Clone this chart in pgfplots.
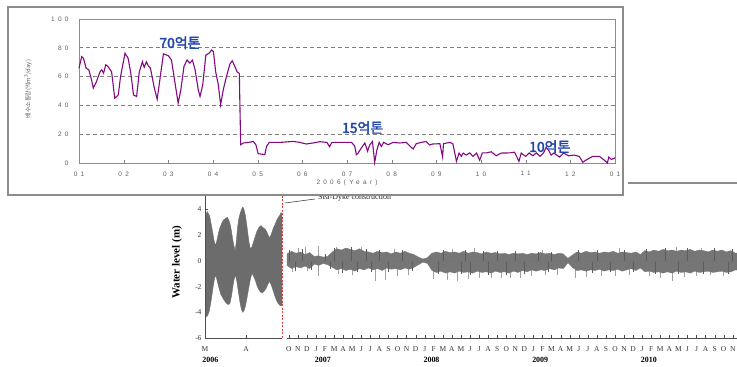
\documentclass[border=0pt]{standalone}
\usepackage{pgfplots}
\pgfplotsset{compat=1.18}
\usepackage{fontspec}
\setmainfont{Liberation Serif}
\newfontfamily\krfont{Noto Sans CJK KR}
\newfontfamily\krbold[FakeBold=2.5]{Noto Sans CJK KR}
\newfontfamily\spfont[LetterSpace=50]{Liberation Sans}
\definecolor{purp}{RGB}{130,10,130}
\definecolor{annblue}{RGB}{35,70,170}
\definecolor{tgray}{RGB}{95,95,95}
\definecolor{wgray}{RGB}{108,108,108}
\definecolor{bgray}{RGB}{118,118,118}
\definecolor{sgray}{RGB}{160,160,160}
\definecolor{rline}{RGB}{225,60,60}
\begin{document}
\begin{tikzpicture}
\path[use as bounding box] (0bp,0bp) rectangle (737bp,367bp);

% ---------------- bottom chart, left segment (Mar-Apr 2006) ----------------
\begin{axis}[at={(205bp,29bp)}, anchor=south west, scale only axis,
  width=77bp, height=142.6bp, xmin=0, xmax=58, ymin=-6, ymax=5.1,
  axis x line*=bottom, axis y line*=left,
  axis line style={black!70, line width=0.8bp, -},
  xtick={0,31}, xticklabels={M,A},
  ytick={-6,-4,-2,0,2,4}, yticklabels={-6,-4,-2,0,2,4},
  tick align=inside, major tick length=2.5bp, tick style={black!70},
  ticklabel style={font=\fontsize{7.5}{8}\selectfont, text=black!80},
  xticklabel style={yshift=-5bp},
  every axis y label/.style={at={(axis description cs:-0.364,0.53)}, rotate=90, anchor=center},
  ylabel={\fontsize{11}{12}\selectfont\bfseries Water level (m)},
  clip=false]
\addplot[fill=wgray, draw=wgray, line width=0.4bp] coordinates {
(0.8,3.6) (1.6,3.85) (2.4,3.7) (3.5,3.5) (4.6,2.9) (5.8,2.2) (6.8,1.6) (7.8,1.2) (8.8,1.5) (9.8,2.0) (11.0,2.5) (12.5,2.9) (14.0,3.2) (15.5,3.3) (16.9,3.4) (18.2,3.1) (19.3,2.7) (20.4,2.0) (21.5,1.3) (22.7,0.8) (23.6,1.5) (24.5,2.6) (25.5,3.3) (26.5,3.7) (27.5,4.0) (28.5,4.2) (29.4,4.0) (30.3,3.6) (31.2,3.0) (32.2,2.2) (33.2,1.4) (34.3,0.9) (35.4,1.1) (36.6,1.5) (37.8,1.9) (39.1,2.3) (40.6,2.6) (42.2,2.75) (43.6,2.6) (45.0,2.5) (46.4,2.3) (47.6,2.0) (48.8,1.8) (50.0,2.1) (51.3,2.5) (52.6,2.8) (53.8,3.1) (55.0,3.35) (56.3,3.55) (57.3,3.75) (58,3.7)
(58,-3.4) (57.2,-3.5) (56.3,-3.45) (55.0,-3.3) (53.8,-3.05) (52.5,-2.7) (51.3,-2.3) (50.0,-1.9) (48.7,-1.6) (47.4,-1.8) (46.2,-2.1) (44.6,-2.35) (43.0,-2.5) (41.6,-2.4) (40.4,-2.2) (39.1,-1.9) (37.9,-1.5) (36.6,-1.2) (35.4,-0.95) (34.2,-1.4) (32.8,-2.2) (31.6,-2.9) (30.5,-3.5) (29.5,-3.85) (28.5,-4.0) (27.5,-3.8) (26.5,-3.3) (25.3,-2.5) (24.0,-1.6) (23.0,-1.1) (22.0,-1.4) (21.0,-2.0) (20.0,-2.7) (18.8,-3.3) (17.5,-3.4) (16.2,-3.3) (15.0,-3.15) (13.5,-2.9) (11.9,-2.6) (10.5,-2.1) (9.3,-1.6) (8.3,-1.15) (7.3,-1.3) (6.3,-1.9) (5.3,-2.6) (4.3,-3.3) (3.2,-3.9) (2.2,-4.2) (1.2,-4.35) (0.8,-4.2)
} -- cycle;
\addplot[rline, line width=0.8bp, dash pattern=on 2bp off 1.5bp] coordinates {(58,-6) (58,5.1)};
\node[font=\fontsize{8}{9}\selectfont\bfseries, anchor=north] at (axis cs:4,-6) [yshift=-16bp] {2006};
\end{axis}

% ---------------- bottom chart, right segment (Oct 2006 - 2010) ----------------
\begin{axis}[at={(287bp,29bp)}, anchor=south west, scale only axis,
  width=454.8bp, height=142.6bp, xmin=-3.2, xmax=47, ymin=-6, ymax=5.1,
  axis x line*=bottom, axis y line=none,
  axis line style={black!70, line width=0.8bp, -},
  xtick={-3,...,46},
  xticklabels={O,N,D,J,F,M,A,M,J,J,A,S,O,N,D,J,F,M,A,M,J,J,A,S,O,N,D,J,F,M,A,M,J,J,A,S,O,N,D,J,F,M,A,M,J,J,A,S,O,N},
  tick align=inside, major tick length=2.5bp, tick style={black!70},
  ticklabel style={font=\fontsize{7.5}{8}\selectfont, text=black!80},
  xticklabel style={yshift=-5bp},
  clip=false]
\addplot[ycomb, sgray, line width=0.7bp] coordinates {
(-2.6,-0.9) (-1.0,-0.8) (0.3,-1.2) (2.5,-1.0) (4.0,-1.1) (6.6,-1.55) (7.7,-1.5) (9.0,-1.2) (10.2,-1.1) (13.0,-1.4) (14.5,-1.5) (15.6,-1.6) (16.8,-1.4) (18.0,-1.3) (19.3,-1.3) (20.5,-1.3) (21.5,-1.3) (22.6,-1.35) (23.8,-1.2) (25.3,-1.1) (26.6,-1.1) (28.6,-1.3) (29.8,-1.25) (31.5,-1.15) (33.0,-1.2) (34.6,-1.1) (36.8,-1.2) (38.0,-1.3) (39.3,-1.6) (40.7,-1.25) (42.0,-1.2) (43.5,-1.1) (45.0,-1.2)
(-2.0,1.0) (-1.2,1.05) (0.3,1.15) (2.2,1.1) (3.5,1.0) (5.0,1.05) (8.6,0.95) (15.0,0.95) (17.5,1.0) (25.0,0.85) (33.5,1.0) (39.8,1.1) (42.5,1.0)
};
\addplot[fill=bgray, draw=bgray, line width=0.3bp] coordinates {
(-3.2,0.55) (-2.7,0.75) (-2.2,0.6) (-1.7,0.7) (-1.2,0.5) (-0.7,0.65) (-0.2,0.35) (0.3,0.4) (0.8,0.3) (1.3,0.35) (1.8,0.7) (2.3,0.95) (2.8,0.85) (3.3,1.0) (3.8,0.9) (4.3,0.8) (4.8,0.95) (5.3,0.75) (5.8,0.7) (6.3,0.6) (6.8,0.75) (7.3,0.65) (7.8,0.7) (8.3,0.55) (8.8,0.7) (9.3,0.6) (9.8,0.75) (10.3,0.6) (10.8,0.5) (11.3,0.3) (11.8,0.15) (12.3,0.25) (12.8,0.6) (13.3,0.7) (13.8,0.6) (14.3,0.75) (14.8,0.65) (15.3,0.7) (15.8,0.6) (16.3,0.75) (16.8,0.6) (17.3,0.7) (17.8,0.65) (18.3,0.55) (18.8,0.7) (19.3,0.6) (19.8,0.65) (20.3,0.55) (20.8,0.6) (21.3,0.5) (21.8,0.6) (22.3,0.55) (22.8,0.6) (23.3,0.5) (23.8,0.6) (24.3,0.55) (24.8,0.65) (25.3,0.55) (25.8,0.6) (26.3,0.5) (26.8,0.6) (27.3,0.55) (27.8,0.2) (28.3,0.45) (28.8,0.7) (29.3,0.6) (29.8,0.75) (30.3,0.65) (30.8,0.7) (31.3,0.6) (31.8,0.7) (32.3,0.65) (32.8,0.75) (33.3,0.6) (33.8,0.7) (34.3,0.65) (34.8,0.6) (35.3,0.7) (35.8,0.5) (36.3,0.8) (36.8,0.7) (37.3,0.85) (37.8,0.75) (38.3,0.9) (38.8,0.8) (39.3,0.85) (39.8,0.75) (40.3,0.85) (40.8,0.8) (41.3,0.9) (41.8,0.75) (42.3,0.85) (42.8,0.8) (43.3,0.7) (43.8,0.85) (44.3,0.75) (44.8,0.85) (45.3,0.7) (45.8,0.8) (46.3,0.6) (46.8,0.65) (47,0.6)
(47,-0.7) (46.8,-0.75) (46.3,-0.7) (45.8,-0.85) (45.3,-0.9) (44.8,-0.8) (44.3,-0.85) (43.8,-0.9) (43.3,-0.8) (42.8,-0.85) (42.3,-0.9) (41.8,-0.8) (41.3,-0.95) (40.8,-0.85) (40.3,-0.9) (39.8,-0.8) (39.3,-0.95) (38.8,-0.85) (38.3,-0.95) (37.8,-0.85) (37.3,-0.9) (36.8,-0.8) (36.3,-0.85) (35.8,-0.55) (35.3,-0.75) (34.8,-0.6) (34.3,-0.7) (33.8,-0.8) (33.3,-0.65) (32.8,-0.75) (32.3,-0.7) (31.8,-0.8) (31.3,-0.65) (30.8,-0.75) (30.3,-0.7) (29.8,-0.8) (29.3,-0.7) (28.8,-0.75) (28.3,-0.5) (27.8,-0.15) (27.3,-0.6) (26.8,-0.55) (26.3,-0.7) (25.8,-0.6) (25.3,-0.75) (24.8,-0.7) (24.3,-0.8) (23.8,-0.7) (23.3,-0.85) (22.8,-0.75) (22.3,-0.9) (21.8,-0.8) (21.3,-0.95) (20.8,-0.85) (20.3,-0.9) (19.8,-0.8) (19.3,-0.95) (18.8,-0.85) (18.3,-0.9) (17.8,-0.8) (17.3,-0.95) (16.8,-0.85) (16.3,-0.9) (15.8,-0.8) (15.3,-0.95) (14.8,-0.85) (14.3,-0.95) (13.8,-0.8) (13.3,-0.9) (12.8,-0.75) (12.3,-0.2) (11.8,-0.1) (11.3,-0.3) (10.8,-0.5) (10.3,-0.65) (9.8,-0.55) (9.3,-0.7) (8.8,-0.6) (8.3,-0.65) (7.8,-0.55) (7.3,-0.75) (6.8,-0.6) (6.3,-0.7) (5.8,-0.55) (5.3,-0.7) (4.8,-0.6) (4.3,-0.8) (3.8,-0.65) (3.3,-0.75) (2.8,-0.6) (2.3,-0.7) (1.8,-0.5) (1.3,-0.3) (0.8,-0.2) (0.3,-0.35) (-0.2,-0.25) (-0.7,-0.6) (-1.2,-0.4) (-1.7,-0.55) (-2.2,-0.45) (-2.7,-0.6) (-3.2,-0.35)
} -- cycle;
\addplot[ycomb, wgray!85!black, line width=0.6bp] coordinates {
(-2.9,0.85) (-2.3,-0.75) (-1.5,0.9) (-0.5,-0.7) (1.0,0.55) (1.6,-0.6) (2.0,1.0) (2.9,-0.95) (3.9,1.05) (4.6,-0.9) (5.6,0.9) (6.1,-0.9) (7.0,0.85) (8.0,-0.85) (9.5,0.85) (10.6,-0.8) (13.5,-1.05) (14.0,0.85) (16.0,-1.05) (16.5,0.85) (17.0,-1.1) (18.5,0.8) (19.0,-1.1) (20.0,0.8) (21.0,-1.1) (22.0,0.75) (23.0,-1.0) (24.5,0.7) (25.6,-0.9) (26.0,0.7) (29.0,0.85) (30.5,-0.95) (31.0,0.85) (32.5,-0.9) (34.0,0.85) (35.0,-0.9) (36.5,0.95) (37.5,-1.05) (38.5,1.0) (40.0,-1.05) (41.0,1.0) (42.7,-1.05) (44.0,1.0) (45.5,-1.0) (46.0,0.9)
};
\addplot[black!55, line width=0.4bp] coordinates {(-3.2,0) (47,0)};
\node[font=\fontsize{8}{9}\selectfont\bfseries, anchor=north] at (axis cs:0.75,-6) [yshift=-16bp] {2007};
\node[font=\fontsize{8}{9}\selectfont\bfseries, anchor=north] at (axis cs:12.75,-6) [yshift=-16bp] {2008};
\node[font=\fontsize{8}{9}\selectfont\bfseries, anchor=north] at (axis cs:24.75,-6) [yshift=-16bp] {2009};
\node[font=\fontsize{8}{9}\selectfont\bfseries, anchor=north] at (axis cs:36.75,-6) [yshift=-16bp] {2010};
\end{axis}

% annotation of the dyke
\draw[black!75, line width=0.6bp] (285bp,164bp) -- (315bp,168bp);
\node[font=\fontsize{8}{9}\selectfont, anchor=base west, text=black!85, inner sep=0pt] at (318bp,167.5bp) {Sea-Dyke construction};

% ---------------- top chart frame ----------------
\draw[black!45, line width=1.2bp, fill=white] (8bp,172bp) rectangle (623bp,360bp);
\draw[black!45, line width=1.2bp] (628bp,184bp) -- (737bp,184bp);

\begin{axis}[at={(79bp,204bp)}, anchor=south west, scale only axis,
  width=536bp, height=144bp, xmin=0, xmax=12, ymin=0, ymax=100,
  axis line style={black!45, line width=0.8bp},
  xtick={0,...,12}, xticklabels={01,02,03,04,05,06,07,08,09,10,11,12,01},
  ytick={0,20,40,60,80,100}, yticklabels={0,20,40,60,80,100},
  xtick pos=bottom, tick align=inside, major tick length=3bp,
  xtick style={black!50}, ytick style={draw=none},
  ticklabel style={font=\spfont\fontsize{6.5}{7}\selectfont, text=tgray},
  xticklabel style={yshift=-5bp}, yticklabel style={xshift=-7bp},
  ymajorgrids, grid style={black!50, line width=0.9bp, dash pattern=on 4bp off 3bp},
  every axis x label/.style={at={(axis description cs:0.5,-0.139)}, anchor=center},
  xlabel={\spfont\fontsize{6.5}{7}\selectfont\color{tgray}2006(Year)},
  every axis y label/.style={at={(axis description cs:-0.095,0.514)}, rotate=90, anchor=center},
  ylabel={\krfont\fontsize{6}{7}\selectfont\color{tgray}배수소통량(억m\textsuperscript{3}/day)},
  clip=false]
\addplot[purp, line width=1.1bp] coordinates {
(0.00,65.8) (0.06,73.9) (0.10,72.7) (0.16,65.8) (0.22,64.7) (0.28,57.8) (0.32,52.0) (0.39,56.4) (0.47,63.3) (0.51,64.7) (0.55,62.4) (0.60,68.2) (0.65,67.0) (0.73,63.3) (0.80,45.0) (0.88,47.3) (0.93,60.0) (1.03,76.2) (1.10,72.7) (1.16,62.4) (1.22,47.3) (1.29,46.2) (1.35,63.3) (1.42,70.3) (1.46,66.5) (1.51,70.3) (1.55,67.5) (1.60,65.8) (1.68,53.0) (1.75,44.3) (1.81,57.8) (1.89,75.8) (2.00,74.5) (2.07,71.6) (2.15,55.5) (2.22,41.6) (2.28,50.8) (2.35,67.0) (2.42,71.6) (2.48,69.3) (2.54,71.4) (2.60,64.7) (2.67,50.8) (2.71,46.2) (2.77,54.3) (2.84,75.0) (2.91,76.2) (2.97,78.5) (3.01,77.3) (3.06,63.3) (3.12,54.3) (3.17,40.4) (3.23,50.8) (3.30,60.0) (3.38,68.8) (3.43,71.0) (3.49,67.0) (3.54,63.3) (3.59,62.2) (3.60,43.9) (3.62,12.7) (3.68,13.9) (3.80,14.3) (3.90,15.0) (3.96,12.7) (4.01,6.5) (4.16,5.8) (4.20,11.6) (4.26,14.3) (4.50,14.3) (4.80,15.0) (4.94,14.3) (5.09,13.2) (5.24,13.9) (5.39,14.8) (5.55,14.3) (5.61,11.3) (5.66,14.3) (5.84,14.3) (6.10,14.3) (6.17,12.0) (6.21,5.8) (6.25,6.9) (6.32,10.4) (6.40,13.9) (6.46,8.2) (6.51,12.7) (6.57,14.9) (6.62,0.5) (6.67,9.2) (6.72,14.3) (6.77,11.5) (6.82,14.3) (6.92,12.7) (7.03,14.3) (7.18,13.9) (7.33,14.3) (7.40,12.0) (7.48,9.7) (7.55,13.4) (7.66,14.3) (7.77,14.9) (7.85,12.5) (7.92,13.2) (8.08,13.4) (8.14,4.1) (8.16,13.4) (8.30,14.3) (8.37,13.4) (8.45,1.2) (8.51,6.9) (8.56,4.6) (8.60,6.9) (8.67,5.5) (8.75,7.0) (8.82,4.6) (8.90,6.9) (8.97,1.9) (9.03,7.0) (9.12,7.0) (9.23,7.8) (9.34,5.0) (9.45,6.9) (9.64,7.0) (9.75,7.5) (9.85,1.2) (9.90,6.9) (10.00,4.6) (10.08,7.0) (10.16,5.0) (10.24,7.0) (10.32,4.6) (10.40,7.0) (10.46,11.0) (10.53,8.0) (10.57,5.5) (10.63,6.9) (10.76,4.1) (10.85,6.9) (10.96,5.0) (11.08,5.5) (11.20,4.6) (11.28,0.5) (11.35,2.0) (11.50,4.6) (11.65,4.6) (11.76,2.0) (11.83,0.0) (11.86,4.1) (11.92,2.5) (12.00,3.5)
};
\node[font=\krbold\fontsize{14}{14}\selectfont, text=annblue] at (axis cs:2.26,83.5) {70억톤};
\node[font=\krbold\fontsize{14}{14}\selectfont, text=annblue] at (axis cs:6.35,24.5) {15억톤};
\node[font=\krbold\fontsize{14}{14}\selectfont, text=annblue] at (axis cs:10.54,11.3) {10억톤};
\end{axis}
\end{tikzpicture}
\end{document}
